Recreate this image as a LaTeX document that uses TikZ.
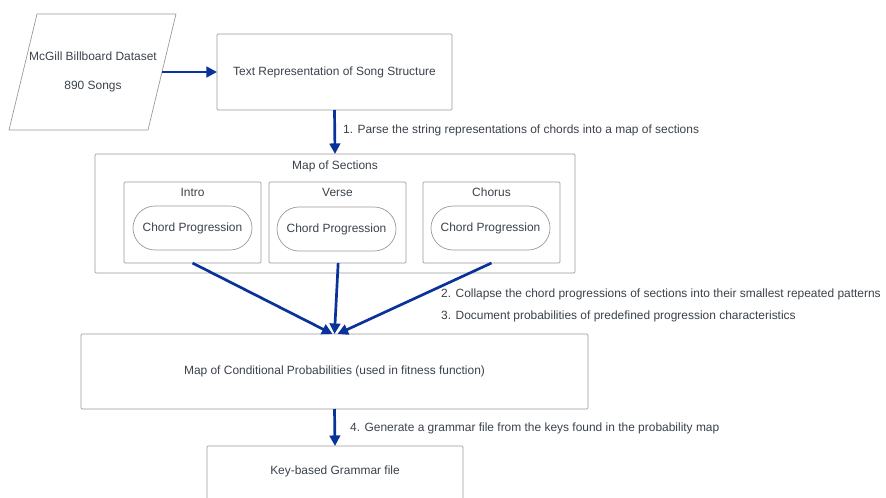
\documentclass[tikz,border=0pt]{standalone}
\usepackage{fontspec}
\setmainfont{Liberation Sans}
\usepackage{tikz}
\usetikzlibrary{arrows.meta, shapes.misc, positioning}
\usepackage{xcolor}
\definecolor{flowblue}{HTML}{0A3399}
\definecolor{boxgrey}{HTML}{9A9A9A}
\definecolor{txtgrey}{HTML}{3A414A}

\tikzset{
	box/.style={draw=boxgrey, line width=0.6pt, rounded corners=1pt, inner sep=0pt, outer sep=0pt},
	progbox/.style={draw=boxgrey, line width=0.6pt, rounded rectangle, inner sep=0pt, outer sep=0pt,
		minimum width=3.57cm, minimum height=1.32cm},
	flow/.style={draw=flowblue, line width=2.3pt, -{Triangle[width=9pt,length=9pt]}},
	steplabel/.style={anchor=west, inner sep=0pt, text=txtgrey}
}

\begin{document}
\begin{tikzpicture}[x=0.03cm, y=-0.03cm, font=\fontsize{10.2}{12}\selectfont, text=txtgrey]
		\useasboundingbox (0,0) rectangle (886,497);
		\clip (0,0) rectangle (886,497);
		% dataset (parallelogram)
		\draw[draw=boxgrey, line width=0.6pt] (37,14) -- (176,14) -- (148,130) -- (9,130) -- cycle;
		\coordinate (dataedge) at (162,72);
		\draw (93,72) node[align=center, inner sep=0pt] (data) {McGill Billboard Dataset\\[12.5pt]890 Songs}
		(334.5,72) node[box, minimum width=7.05cm, minimum height=2.28cm] (txtrep) {Text Representation of Song Structure}
		(335,213.5) node[box, minimum width=14.4cm, minimum height=3.57cm] (secmap) {}
		(192.5,222.5) node[box, minimum width=4.11cm, minimum height=2.43cm] (intro) {}
		(337.5,222.5) node[box, minimum width=4.11cm, minimum height=2.43cm] (verse) {}
		(491.5,222.5) node[box, minimum width=4.11cm, minimum height=2.43cm] (chorus) {}
		(192.5,228) node[progbox] (introprog) {Chord Progression}
		(336.5,229) node[progbox] (verseprog) {Chord Progression}
		(490.5,228) node[progbox] (chorusprog) {Chord Progression}
		(334.5,371.5) node[box, minimum width=15.21cm, minimum height=2.25cm] (condprob) {Map of Conditional Probabilities (used in fitness function)}
		(335,484) node[box, minimum width=7.68cm, minimum height=2.28cm, text depth=0pt] (grammar) {};

		% section titles
		\node[below=0.2cm of secmap.north, inner sep=0pt] (sectitle) {Map of Sections};
		\node[below=0.17cm of intro.north, inner sep=0pt] (introtitle) {Intro};
		\node[below=0.17cm of verse.north, inner sep=0pt] (versetitle) {Verse};
		\node[below=0.17cm of chorus.north, inner sep=0pt] (chorustitle) {Chorus};
		\node[inner sep=0pt] (grammartitle) at (335,471) {Key-based Grammar file};

		% step labels
		\node[steplabel] (step1) at (343,130) {1. Parse the string representations of chords into a map of sections};
		\node[steplabel] (step2) at (441,294) {2. Collapse the chord progressions of sections into their smallest repeated patterns};
		\node[steplabel] (step3) at (441,316) {3. Document probabilities of predefined progression characteristics};
		\node[steplabel] (step4) at (350,428) {4. Generate a grammar file from the keys found in the probability map};

		\draw[flow] (dataedge) -- (txtrep.west);
		\draw[flow] (txtrep.south) -- (secmap.north);
		\draw[flow] (intro.south) -- ([xshift=-0.06cm]condprob.north);
		\draw[flow] ([xshift=0.02cm]verse.south) -- (condprob.north);
		\draw[flow] (chorus.south) -- ([xshift=0.09cm]condprob.north);
		\draw[flow] (condprob.south) -- (grammar.north);
	\end{tikzpicture}
\end{document}
